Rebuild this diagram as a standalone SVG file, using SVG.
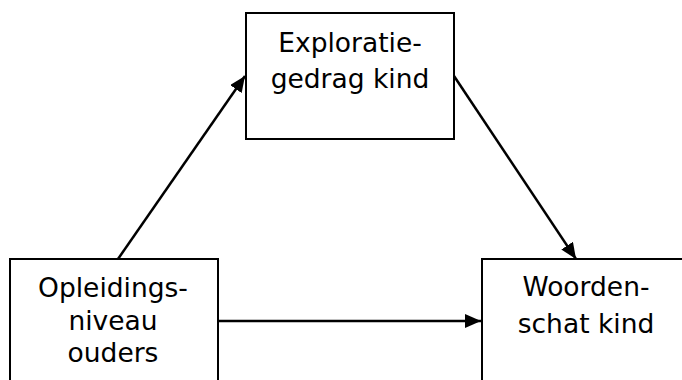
<svg xmlns="http://www.w3.org/2000/svg" width="682" height="380" viewBox="0 0 682 380">
<style>
.box{fill:#fff;stroke:#000;stroke-width:2}
.lbl{font-family:"DejaVu Sans",Verdana,sans-serif;font-size:26.5px;fill:#000;text-anchor:middle}
.edge{stroke:#000;stroke-width:2.5;fill:none;marker-end:url(#ah)}
</style>
<defs>
<marker id="ah" viewBox="0 0 16 14" refX="16" refY="7" markerWidth="16" markerHeight="14" markerUnits="userSpaceOnUse" orient="auto">
<path d="M0,0 L16,7 L0,14 Z" fill="#000"/>
</marker>
</defs>
<rect width="682" height="380" fill="#fff"/>
<g id="connectors">
<line class="edge" x1="118" y1="259" x2="245" y2="76"/>
<line class="edge" x1="454" y1="76" x2="576" y2="259"/>
<line class="edge" x1="218" y1="321" x2="481" y2="321"/>
</g>
<g id="exploratie">
<rect class="box" x="246" y="13" width="208" height="126"/>
<text class="lbl" x="350" y="52">Exploratie-</text>
<text class="lbl" x="350" y="88">gedrag kind</text>
</g>
<g id="opleiding">
<rect class="box" x="10" y="259" width="208" height="126"/>
<text class="lbl" x="113" y="297">Opleidings-</text>
<text class="lbl" x="113" y="330">niveau</text>
<text class="lbl" x="113" y="362">ouders</text>
</g>
<g id="woordenschat">
<rect class="box" x="482" y="259" width="208" height="126"/>
<text class="lbl" x="586" y="296">Woorden-</text>
<text class="lbl" x="586" y="333">schat kind</text>
</g>
</svg>
